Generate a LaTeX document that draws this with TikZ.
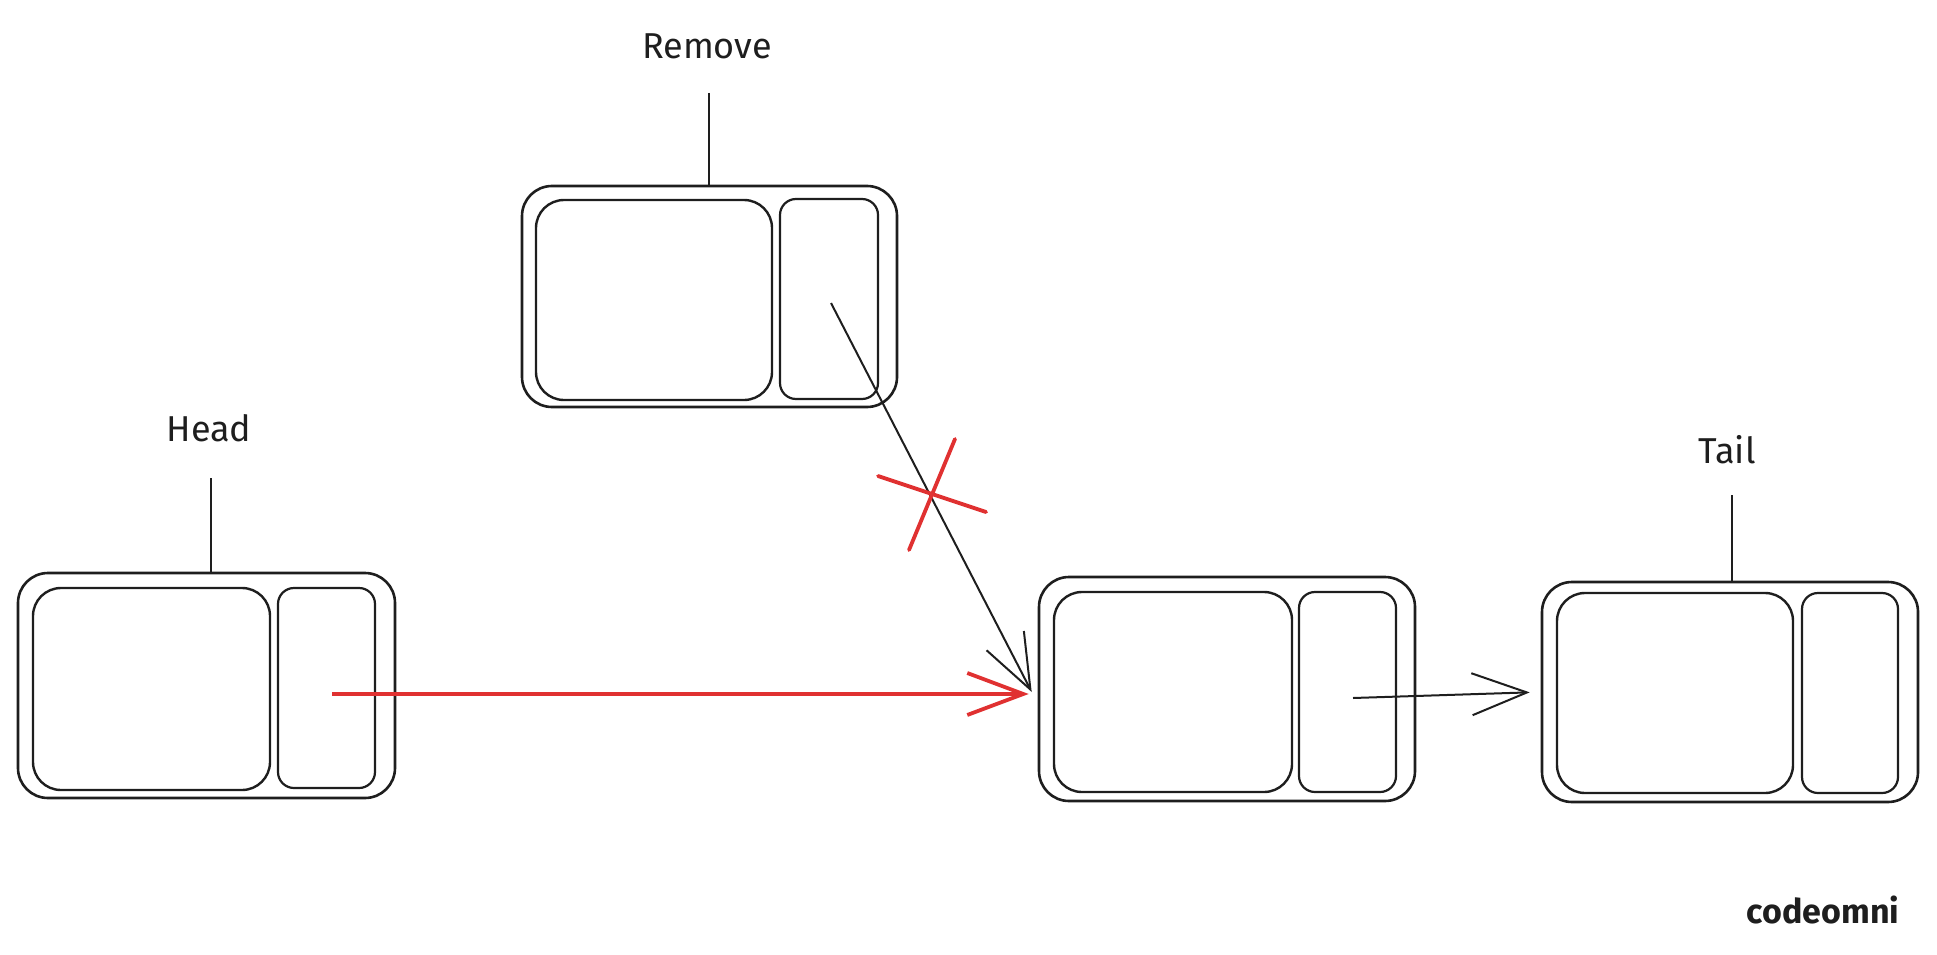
\documentclass[tikz,border=0pt]{standalone}
\usepackage{fontspec}
\setmainfont{Fira Sans}
\usetikzlibrary{arrows.meta}
\definecolor{ink}{HTML}{1E1E1E}
\definecolor{xred}{HTML}{E03131}
\tikzset{
  nodebox/.style={draw=ink, line width=2.6pt, rounded corners=30pt, inner sep=0pt},
  datacell/.style={draw=ink, line width=2.4pt, rounded corners=28pt, inner sep=0pt},
  ptrcell/.style={draw=ink, line width=2.2pt, rounded corners=16pt, inner sep=0pt},
  lbl/.style={text=ink, font=\fontsize{36}{40}\selectfont, inner sep=0pt},
  stem/.style={draw=ink, line width=2pt},
  blackarrow/.style={draw=ink, line width=2pt, -{Straight Barb[length=55pt, width=42pt, line width=2pt]}},
  redarrow/.style={draw=xred, line width=3.8pt, -{Straight Barb[length=56pt, width=42pt, line width=3.8pt]}},
  cross/.style={draw=xred, line width=3.8pt, line cap=round}
}
\begin{document}
\begin{tikzpicture}[x=1pt, y=-1pt]
\useasboundingbox (0,0) rectangle (1937,955);

% Remove node
\node[nodebox, minimum width=375pt, minimum height=221pt] (rem) at (709.5,296.5) {};
\node[datacell, minimum width=236pt, minimum height=200pt] (remL) at (654,300) {};
\node[ptrcell, minimum width=98pt, minimum height=200pt] (remR) at (829,299) {};

% Head node
\node[nodebox, minimum width=377pt, minimum height=225pt] (head) at (206.5,685.5) {};
\node[datacell, minimum width=237pt, minimum height=202pt] (headL) at (151.5,689) {};
\node[ptrcell, minimum width=97pt, minimum height=200pt] (headR) at (326.5,688) {};

% Middle node
\node[nodebox, minimum width=376pt, minimum height=224pt] (mid) at (1227,689) {};
\node[datacell, minimum width=238pt, minimum height=200pt] (midL) at (1173,692) {};
\node[ptrcell, minimum width=97pt, minimum height=200pt] (midR) at (1347.5,692) {};

% Tail node
\node[nodebox, minimum width=376pt, minimum height=220pt] (tail) at (1730,692) {};
\node[datacell, minimum width=236pt, minimum height=200pt] (tailL) at (1675,693) {};
\node[ptrcell, minimum width=96pt, minimum height=200pt] (tailR) at (1850,693) {};

% Labels
\node[lbl] (remlbl) at (707,46) {Remove};
\node[lbl] (headlbl) at (209,428) {Head};
\node[lbl] (taillbl) at (1727,450) {Tail};
\node[lbl, font=\bfseries\fontsize{34}{38}\selectfont] (brand) at (1823,910) {codeomni};

% Label stems
\coordinate (remtop) at (709,93);
\coordinate (headtop) at (211,478);
\coordinate (tailtop) at (1732,495);
\draw[stem] (remtop) -- (remtop |- rem.north);
\draw[stem] (headtop) -- (headtop |- head.north);
\draw[stem] (tailtop) -- (tailtop |- tail.north);

% Pointers
\coordinate (hp) at (332,694);
\coordinate (rp) at (831,303);
\coordinate (mp) at (1353,698);
\draw[redarrow, shorten >=9pt] (hp) -- (hp -| mid.west);
\draw[blackarrow] (rp) -- ([shift={(-6,3)}]mid.west);
\draw[blackarrow, shorten >=11pt] (mp) -- (tail.west);

% Red cross over removed link
\coordinate (xa1) at (878,476);
\coordinate (xa2) at (986,512);
\coordinate (xb1) at (955,439);
\coordinate (xb2) at (909,550);
\draw[cross] (xa1) -- (xa2);
\draw[cross] (xb1) -- (xb2);
\end{tikzpicture}
\end{document}
